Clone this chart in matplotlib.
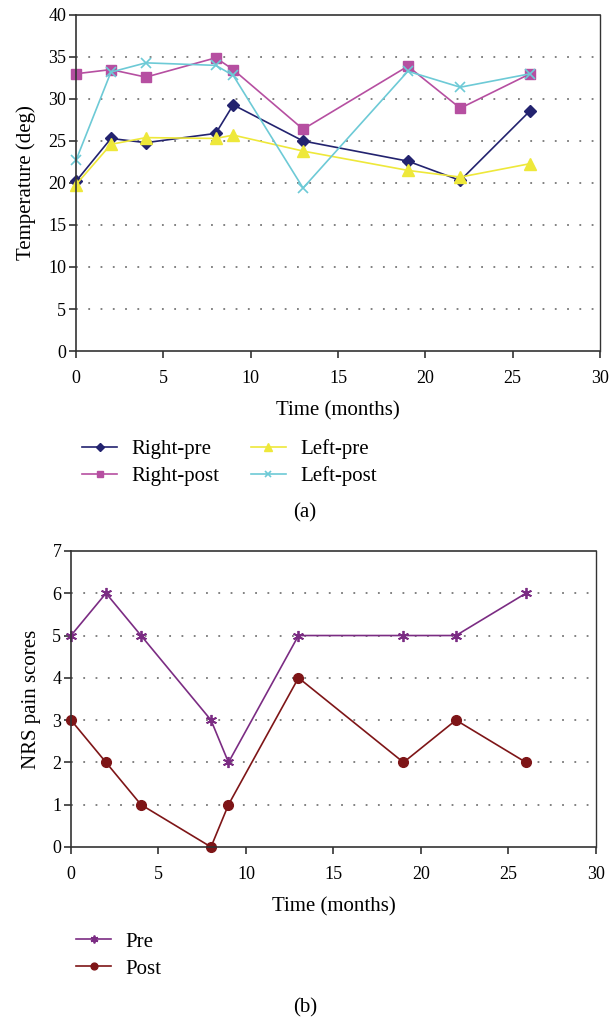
#!/usr/bin/env python3
from matplotlib import pyplot as plt

months = [0, 2, 4, 8, 9, 13, 19, 22, 26]

right_pre = [20.2, 25.3, 24.8, 25.9, 29.3, 25.0, 22.6, 20.3, 28.6]
right_post = [33.0, 33.5, 32.6, 34.9, 33.5, 26.4, 33.9, 28.9, 33.0]
left_pre = [19.8, 24.6, 25.4, 25.3, 25.7, 23.8, 21.5, 20.7, 22.3]
left_post = [22.7, 33.2, 34.3, 34.0, 32.8, 19.4, 33.3, 31.4, 33.0]

nrs_pre = [5, 6, 5, 3, 2, 5, 5, 5, 6]
nrs_post = [3, 2, 1, 0, 1, 4, 2, 3, 2]


def style_axes(ax, ymax, ystep):
    ax.set_xlim(0, 30)
    ax.set_ylim(0, ymax)
    ax.set_xticks(range(0, 31, 5))
    ax.set_yticks(range(0, ymax + 1, ystep))
    ax.tick_params(direction='out', length=5, width=1.2, labelsize=13, colors='#333333', labelcolor='black')
    ax.tick_params(axis='x', pad=9)
    ax.tick_params(axis='y', pad=2)
    for s in ax.spines.values():
        s.set_color('#333333')
        s.set_linewidth(1.2)
    ax.spines['right'].set_linewidth(1.0)
    for y in range(ystep, ymax, ystep):
        ax.axhline(y, color='#777777', linestyle=(0, (1, 5.8)), linewidth=1.3, zorder=0)


def main():
    plt.rcParams['font.family'] = ['Liberation Serif', 'DejaVu Serif']
    fig = plt.figure(figsize=(6.11, 10.18), dpi=100)
    leg_kw = dict(frameon=False, fontsize=15, handlelength=1.7, handletextpad=0.67,
                  labelspacing=0.36, borderpad=0, borderaxespad=0, markerscale=0.7)

    ax1 = fig.add_axes([0.1244, 0.6552, 0.8576, 0.3301])
    h1 = [
        ax1.plot(months, right_pre, color='#23236f', marker='D', markersize=6, linewidth=1.2, label='Right-pre', clip_on=False)[0],
        ax1.plot(months, right_post, color='#b64fa1', marker='s', markersize=7, linewidth=1.2, label='Right-post', clip_on=False)[0],
        ax1.plot(months, left_pre, color='#eee83a', marker='^', markersize=8.5, linewidth=1.2, label='Left-pre', clip_on=False)[0],
        ax1.plot(months, left_post, color='#6dcad6', marker='x', markersize=7, markeredgewidth=1.2, linewidth=1.2, label='Left-post', clip_on=False)[0],
    ]
    style_axes(ax1, 40, 5)
    ax1.set_xlabel('Time (months)', fontsize=15, labelpad=10)
    ax1.set_ylabel('Temperature (deg)', fontsize=15, labelpad=9)
    fig.legend(handles=h1, loc='upper left', bbox_to_anchor=(82 / 611, 1 - 439 / 1018),
               ncol=2, columnspacing=1.5, **leg_kw)
    fig.text(305 / 611, 1 - 513 / 1018, '(a)', ha='center', va='center', fontsize=15)

    ax2 = fig.add_axes([0.1162, 0.1680, 0.8592, 0.2908])
    h2 = [
        ax2.plot(months, nrs_pre, color='#7b2c83', marker=(6, 2, 0), markersize=8, markeredgewidth=1.3, linewidth=1.2, label='Pre', clip_on=False)[0],
        ax2.plot(months, nrs_post, color='#7e1517', marker='o', markersize=7, linewidth=1.2, label='Post', clip_on=False)[0],
    ]
    style_axes(ax2, 7, 1)
    ax2.set_xlabel('Time (months)', fontsize=15, labelpad=10)
    ax2.set_ylabel('NRS pain scores', fontsize=15, labelpad=8)
    fig.legend(handles=h2, loc='upper left', bbox_to_anchor=(76 / 611, 1 - 932 / 1018),
               ncol=1, **leg_kw)
    fig.text(305 / 611, 1 - 1008 / 1018, '(b)', ha='center', va='center', fontsize=15)

    fig.savefig('out.png', dpi=100)


if __name__ == '__main__':
    main()
